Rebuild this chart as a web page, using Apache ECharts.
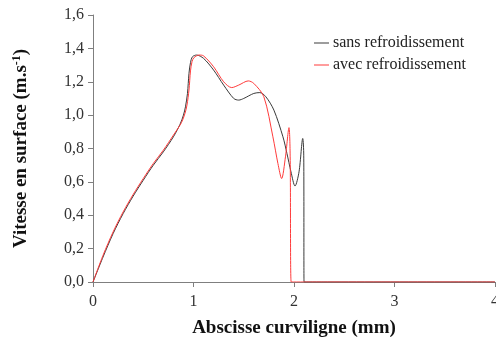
<!DOCTYPE html>
<html>
<head>
<meta charset="utf-8">
<script src="https://cdn.jsdelivr.net/npm/echarts@6/dist/echarts.min.js"></script>
<style>
  html, body { margin: 0; padding: 0; background: #fff; }
  #chart { width: 496px; height: 342px; }
</style>
</head>
<body>
<div id="chart"></div>
<script>
// Surface velocity along the curvilinear abscissa, without and with cooling
const seriesNames = ['sans refroidissement', 'avec refroidissement'];

const sansX = [0, 0.1, 0.2, 0.3, 0.4, 0.5, 0.6, 0.7, 0.8, 0.866, 0.9, 0.92, 0.94, 0.955, 0.97, 0.99, 1.03, 1.1, 1.2, 1.3, 1.4, 1.45, 1.5, 1.6, 1.66, 1.72, 1.8, 1.89, 1.93, 1.97, 2.01, 2.05, 2.087, 2.097, 2.10, 4];
const sansY = [0, 0.15, 0.29, 0.41, 0.515, 0.61, 0.70, 0.78, 0.87, 0.945, 1.00, 1.05, 1.13, 1.25, 1.315, 1.35, 1.36, 1.34, 1.27, 1.18, 1.10, 1.09, 1.10, 1.13, 1.135, 1.11, 1.03, 0.87, 0.77, 0.66, 0.575, 0.66, 0.86, 0.76, 0, 0];

const avecX = [0, 0.1, 0.2, 0.3, 0.4, 0.5, 0.6, 0.7, 0.8, 0.88, 0.915, 0.935, 0.955, 0.97, 0.985, 1.005, 1.055, 1.1, 1.2, 1.3, 1.38, 1.45, 1.545, 1.6, 1.7, 1.79, 1.84, 1.877, 1.915, 1.95, 1.962, 1.972, 4];
const avecY = [0, 0.16, 0.30, 0.42, 0.525, 0.62, 0.71, 0.79, 0.88, 0.955, 1.01, 1.06, 1.15, 1.265, 1.32, 1.345, 1.36, 1.355, 1.29, 1.20, 1.165, 1.18, 1.205, 1.19, 1.11, 0.87, 0.71, 0.62, 0.75, 0.925, 0.75, 0, 0];

const xTicks = [0, 1, 2, 3, 4];
const yTicks = [0, 0.2, 0.4, 0.6, 0.8, 1.0, 1.2, 1.4, 1.6];

const zip = (xs, ys) => xs.map((x, i) => [x, ys[i]]);
const serif = 'Liberation Serif';
const axisColor = '#7f7f7f';

const chart = echarts.init(document.getElementById('chart'), null, { renderer: 'canvas' });
chart.setOption({
  animation: false,
  backgroundColor: '#fff',
  grid: { left: 93, right: 1, top: 15, bottom: 60, containLabel: false, outerBoundsMode: 'none' },
  legend: {
    orient: 'vertical',
    left: 309,
    top: 30,
    itemWidth: 15,
    itemHeight: 1,
    itemGap: 6,
    icon: 'rect',
    data: seriesNames,
    textStyle: { fontFamily: serif, fontSize: 16, color: '#222', padding: [0, 0, 0, -1] }
  },
  xAxis: {
    type: 'value',
    min: xTicks[0],
    max: xTicks[xTicks.length - 1],
    interval: 1,
    splitLine: { show: false },
    axisLine: { lineStyle: { color: axisColor, width: 1 } },
    axisTick: { show: true, length: 5, lineStyle: { color: axisColor } },
    axisLabel: { fontFamily: serif, fontSize: 16, color: '#333', margin: 12, showMaxLabel: true },
    name: 'Abscisse curviligne (mm)',
    nameLocation: 'middle',
    nameGap: 37,
    nameTextStyle: { fontFamily: serif, fontSize: 19, fontWeight: 'bold', color: '#111' }
  },
  yAxis: {
    type: 'value',
    min: yTicks[0],
    max: yTicks[yTicks.length - 1],
    interval: 0.2,
    splitLine: { show: false },
    axisLine: { show: true, lineStyle: { color: axisColor, width: 1 } },
    axisTick: { show: true, length: 5, lineStyle: { color: axisColor } },
    axisLabel: {
      fontFamily: serif, fontSize: 16, color: '#333', margin: 9,
      formatter: v => v.toFixed(1).replace('.', ',')
    },
    name: 'Vitesse en surface (m.s{sup|-1})',
    nameLocation: 'middle',
    nameGap: 61,
    nameTextStyle: {
      fontFamily: serif, fontSize: 19, fontWeight: 'bold', color: '#111',
      rich: {
        sup: { fontFamily: serif, fontSize: 12, fontWeight: 'bold', color: '#111', verticalAlign: 'top', padding: [0, 0, 9, 0] }
      }
    }
  },
  series: [
    {
      name: seriesNames[0],
      type: 'line',
      data: zip(sansX, sansY),
      smooth: 0.3,
      showSymbol: false,
      lineStyle: { color: '#3a3a3a', width: 1 },
      itemStyle: { color: '#3a3a3a' },
      z: 2
    },
    {
      name: seriesNames[1],
      type: 'line',
      data: zip(avecX, avecY),
      smooth: 0.3,
      showSymbol: false,
      lineStyle: { color: '#ff3b3b', width: 1 },
      itemStyle: { color: '#ff3b3b' },
      z: 3
    }
  ]
});
</script>
</body>
</html>
